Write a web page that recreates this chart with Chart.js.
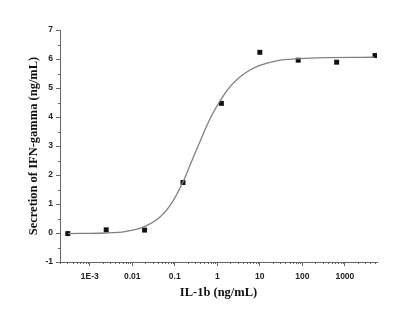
<!DOCTYPE html>
<html>
<head>
<meta charset="utf-8">
<script src="https://cdn.jsdelivr.net/npm/chart.js@4.4.1/dist/chart.umd.min.js"></script>
<style>
  html,body{margin:0;padding:0;background:#fff;}
  #wrap{width:400px;height:324px;}
</style>
</head>
<body>
<div id="wrap"><canvas id="chart" width="400" height="324"></canvas></div>
<script>
// measured points (IL-1b dilution series, 8-fold)
const concentrations = [0.000305, 0.00244, 0.0195, 0.156, 1.25, 10, 80, 640, 5120];
const secretion = [-0.02, 0.11, 0.10, 1.74, 4.47, 6.23, 5.96, 5.89, 6.12];

// fitted curve
const curveX = [0.00031, 0.0024, 0.0068, 0.018, 0.045, 0.078, 0.155, 0.23, 0.39, 0.68, 1.15, 2.0, 3.4, 5.9, 10, 23, 51, 150, 4900];
const curveY = [-0.02, 0.0, 0.05, 0.2, 0.55, 0.95, 1.75, 2.35, 3.15, 3.95, 4.55, 5.05, 5.38, 5.62, 5.78, 5.93, 5.99, 6.03, 6.06];

const xTicks = [0.001, 0.01, 0.1, 1, 10, 100, 1000];
const xTickLabels = ['1E-3', '0.01', '0.1', '1', '10', '100', '1000'];
const yTicks = [-1, 0, 1, 2, 3, 4, 5, 6, 7];

const axisColor = '#666';
const labelFont = {family: 'Liberation Sans, Arial, sans-serif', size: 8.5, weight: 'bold'};
const titleFont = {family: 'Liberation Serif, Times New Roman, serif', size: 12.5, weight: 'bold'};

// small minor tick marks between the major ones
const minorTicks = {
  id: 'minorTicks',
  afterDraw(c){
    const ctx = c.ctx, x = c.scales.x, y = c.scales.y;
    ctx.save();
    ctx.strokeStyle = axisColor;
    ctx.lineWidth = 1;
    ctx.beginPath();
    for(let i = 0; i < yTicks.length - 1; i++){
      const py = Math.round(y.getPixelForValue(yTicks[i] + 0.5)) + 0.5;
      ctx.moveTo(y.right, py); ctx.lineTo(y.right - 2, py);
    }
    for(let n = -4; n <= 3; n++){
      for(let m = 2; m <= 9; m++){
        const v = m * Math.pow(10, n);
        if(v < x.min || v > x.max) continue;
        const px = Math.round(x.getPixelForValue(v)) + 0.5;
        ctx.moveTo(px, x.top); ctx.lineTo(px, x.top + 2);
      }
    }
    ctx.stroke();
    ctx.restore();
  }
};

new Chart(document.getElementById('chart'), {
  type: 'scatter',
  data: {
    datasets: [
      {
        label: 'fit',
        type: 'line',
        data: curveX.map((v, i) => ({x: v, y: curveY[i]})),
        borderColor: '#808080',
        borderWidth: 1.3,
        pointRadius: 0,
        fill: false,
        cubicInterpolationMode: 'monotone'
      },
      {
        label: 'data',
        data: concentrations.map((v, i) => ({x: v, y: secretion[i]})),
        pointStyle: 'rect',
        pointRadius: 3.5,
        backgroundColor: '#111',
        borderColor: '#111',
        borderWidth: 0
      }
    ]
  },
  options: {
    responsive: false,
    animation: false,
    layout: {padding: {left: 0, top: 30, right: 23, bottom: 0}},
    plugins: {legend: {display: false}, tooltip: {enabled: false}},
    scales: {
      x: {
        type: 'logarithmic',
        min: 0.0002,
        max: 5700,
        afterBuildTicks: s => { s.ticks = xTicks.map(v => ({value: v})); },
        afterFit: s => { s.height = 62; },
        ticks: {
          autoSkip: false, maxRotation: 0, padding: 6, color: '#222', font: labelFont,
          callback: v => { const i = xTicks.indexOf(v); return i < 0 ? '' : xTickLabels[i]; }
        },
        grid: {drawOnChartArea: false, drawTicks: true, tickLength: 4, color: axisColor},
        border: {display: true, color: axisColor, width: 1},
        title: {display: true, text: 'IL-1b (ng/mL)', color: '#111', font: titleFont, padding: {top: 0, bottom: 24}}
      },
      y: {
        min: -1,
        max: 7,
        afterBuildTicks: s => { s.ticks = yTicks.map(v => ({value: v})); },
        afterFit: s => { s.width = 60; },
        ticks: {padding: 3, color: '#222', font: labelFont},
        grid: {drawOnChartArea: false, drawTicks: true, tickLength: 4, color: axisColor},
        border: {display: true, color: axisColor, width: 1},
        title: {display: true, text: 'Secretion of IFN-gamma (ng/mL)', color: '#111', font: titleFont, padding: {top: 26, bottom: 0}}
      }
    }
  },
  plugins: [minorTicks]
});
</script>
</body>
</html>
